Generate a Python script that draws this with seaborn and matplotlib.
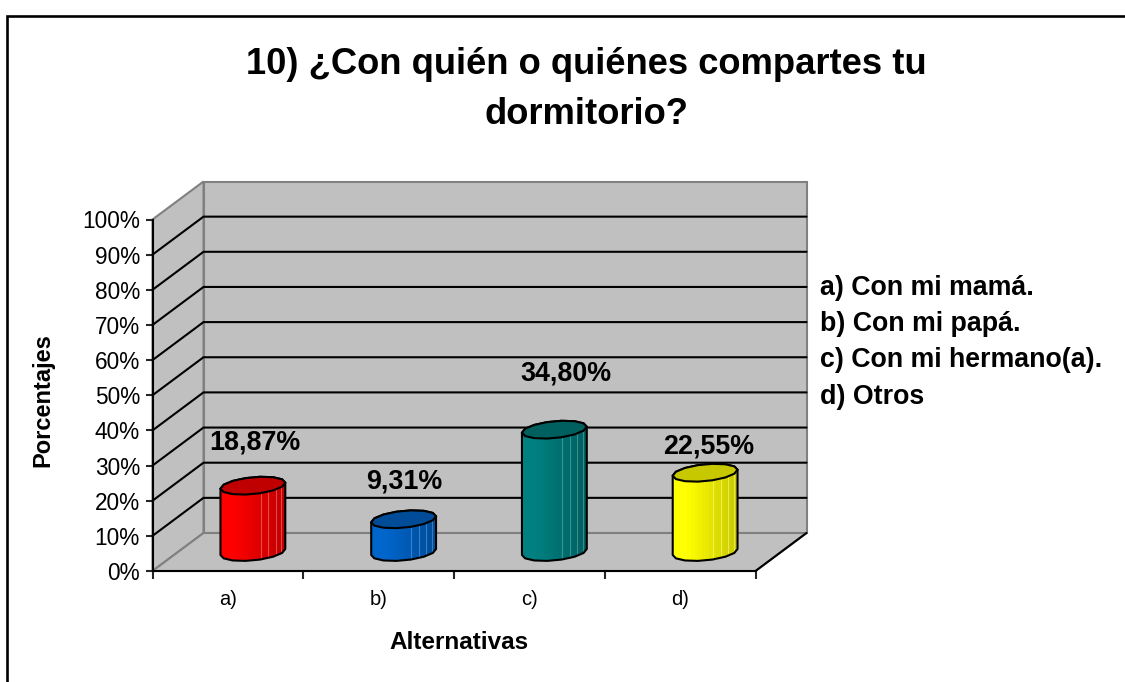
import numpy as np
import pandas as pd
import matplotlib
matplotlib.use("Agg")
import matplotlib.pyplot as plt
from matplotlib.lines import Line2D
from matplotlib.patches import Polygon
from matplotlib.colors import LinearSegmentedColormap
import seaborn as sns

# values
categories = ["a)", "b)", "c)", "d)"]
percentages = [18.87, 9.31, 34.80, 22.55]
value_labels = ["18,87%", "9,31%", "34,80%", "22,55%"]
bar_colors = ["#FF0000", "#0066CC", "#008080", "#FFFF00"]
dark_colors = ["#C00000", "#004C99", "#006060", "#C8C800"]
stripe_colors = ["#FF8080", "#66A3E0", "#66B3B3", "#FFFF99"]
legend_items = ["a) Con mi mamá.", "b) Con mi papá.", "c) Con mi hermano(a).", "d) Otros"]
y_ticks = list(range(0, 101, 10))

# label offset above the top of each bar, in pixels
label_dx = [2, 1, 12, 4]
label_dy = [43, 38, 56, 26]

W, H = 1125, 682
sns.set_theme(style="white")
plt.rcParams["font.family"] = ["Liberation Sans", "DejaVu Sans"]


def px_axes(fig, left, right, top, bottom):
    # axes placed from pixel edges, y counted from the top of the image
    return fig.add_axes([left / W, 1 - bottom / H, (right - left) / W, (bottom - top) / H])


fig = plt.figure(figsize=(W / 100, H / 100), dpi=100, facecolor="white")

# outer frame: only left and top are inside the picture
fig.add_artist(Line2D([7 / W, 7 / W, 1.0], [0, 1 - 15.5 / H, 1 - 15.5 / H], transform=fig.transFigure,
                      color="black", lw=1.9, solid_joinstyle="miter"))

# front plane of the 3d box: this one carries the ticks
ax = px_axes(fig, 152.5, 755.5, 219.5, 571)
ax.set_xlim(-0.5, 3.5)
ax.set_ylim(0, 100)
ax.patch.set_alpha(0)

# depth of the box in data units
dx = 51 / 150.75
dy = 38 / 3.515
grey = "#C0C0C0"
edge = "#808080"

ax.add_patch(Polygon([(-0.5 + dx, dy), (3.5 + dx, dy), (3.5 + dx, 100 + dy), (-0.5 + dx, 100 + dy)],
                     fc=grey, ec=edge, lw=1.5, clip_on=False, zorder=0))
ax.add_patch(Polygon([(-0.5, 0), (-0.5 + dx, dy), (-0.5 + dx, 100 + dy), (-0.5, 100)],
                     fc=grey, ec=edge, lw=1.5, clip_on=False, zorder=0))
ax.add_patch(Polygon([(-0.5, 0), (3.5, 0), (3.5 + dx, dy), (-0.5 + dx, dy)],
                     fc=grey, ec=edge, lw=1.5, clip_on=False, zorder=0))
ax.plot([3.5, 3.5 + dx], [0, dy], color="black", lw=1.5, clip_on=False, zorder=1)
for v in y_ticks[1:-1]:
    ax.plot([-0.5, -0.5 + dx, 3.5 + dx], [v, v + dy, v + dy], color="black", lw=1.5,
            clip_on=False, zorder=1, solid_joinstyle="miter")

sns.despine(ax=ax)
for side in ["left", "bottom"]:
    ax.spines[side].set_color("black")
    ax.spines[side].set_linewidth(1.5)
ax.set_yticks(y_ticks)
ax.set_yticklabels([f"{v}%" for v in y_ticks], fontsize=16.3, color="black")
ax.set_xticks(np.arange(-0.5, 4, 1))
ax.set_xticklabels([])
ax.set_xticks(range(4), categories, minor=True, fontsize=14.5, color="black")
ax.tick_params(axis="y", which="major", left=True, length=5, width=1.5, pad=4)
ax.tick_params(axis="x", which="major", bottom=True, length=6, width=1.5)
ax.tick_params(axis="x", which="minor", bottom=False, length=0, pad=14)
ax.set_ylabel("Porcentajes", fontsize=17, fontweight="bold", color="black")
ax.yaxis.set_label_coords((54 - 152.5) / 603, (571 - 400) / 351.5)
ax.set_xlabel("Alternativas", fontsize=17.5, fontweight="bold", color="black")
ax.xaxis.set_label_coords((459 - 152.5) / 603, (571 - 631) / 351.5)

# bars stand half way into the box, so they get their own shifted axes
# it runs below zero so the round base of each cylinder is not cut off
bar_ax = px_axes(fig, 177.5, 780.5, 200.5, 587.15)
bar_ax.patch.set_alpha(0)
df = pd.DataFrame({"alternativa": categories, "porcentaje": percentages})
sns.barplot(data=df, x="alternativa", y="porcentaje", hue="alternativa", palette=bar_colors,
            width=0.43, legend=False, ax=bar_ax, saturation=1)

# coarse outline, the cylinders in the original are visibly faceted
t = np.linspace(0, 2 * np.pi, 15)
b = 2.4     # ellipse half height in data units
k = 0.85    # tilt, right side sits higher
for bar, val, base, dark, stripe, text, ox, oy in zip(list(bar_ax.patches), percentages, bar_colors, dark_colors,
                                                     stripe_colors, value_labels, label_dx, label_dy):
    cx = bar.get_x() + bar.get_width() / 2
    a = bar.get_width() / 2
    bar.set_visible(False)
    low = t[(t >= np.pi - 1e-9)]
    up = t[t <= np.pi + 1e-9]
    body_x = np.r_[cx + a * np.cos(low), cx + a * np.cos(up)]
    body_y = np.r_[b * np.sin(low) + k * np.cos(low), val + b * np.sin(up) + k * np.cos(up)]
    body = Polygon(np.c_[body_x, body_y], fc="none", ec="black", lw=1.5, clip_on=False, zorder=4,
                   joinstyle="round")
    cmap = LinearSegmentedColormap.from_list("shade", [(0, base), (0.2, base), (1, dark)])
    grad = bar_ax.imshow(np.linspace(0, 1, 18)[None, :], cmap=cmap, aspect="auto", zorder=3,
                         extent=(cx - a, cx + a, -6, val + 4), interpolation="nearest")
    bar_ax.add_patch(body)
    grad.set_clip_path(body)
    # thin light facets on the shaded side
    for frac in [0.62, 0.74, 0.85, 0.94]:
        line, = bar_ax.plot([cx - a + 2 * a * frac] * 2, [-6, val + 4], color=stripe, lw=0.8, alpha=0.55, zorder=3.5)
        line.set_clip_path(body)
    bar_ax.fill(cx + a * np.cos(t), val + b * np.sin(t) + k * np.cos(t), fc=dark, ec="black", lw=1.5, zorder=5,
                clip_on=False)
    bar_ax.annotate(text, (cx, val), xytext=(ox, oy), textcoords="offset pixels", ha="center", va="center",
                    fontsize=19.4, fontweight="bold", color="black", annotation_clip=False)
bar_ax.set_xlim(-0.5, 3.5)
bar_ax.set_ylim(-10, 100)
bar_ax.axis("off")

fig.text(586 / W, 1 - 65 / H, "10) ¿Con quién o quiénes compartes tu", ha="center", va="center",
         fontsize=26.2, fontweight="bold", color="black")
fig.text(586 / W, 1 - 115 / H, "dormitorio?", ha="center", va="center",
         fontsize=26.2, fontweight="bold", color="black")

for label, y in zip(legend_items, [288, 324, 360, 397]):
    fig.text(820 / W, 1 - y / H, label, ha="left", va="center", fontsize=19.3, fontweight="bold", color="black")

fig.savefig("out.png", dpi=100)
